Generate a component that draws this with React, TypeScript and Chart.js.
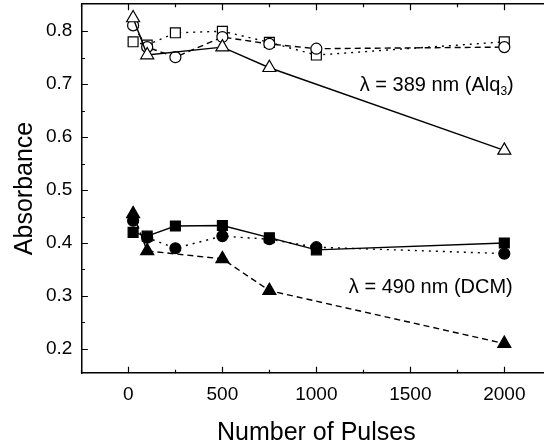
import { useEffect, useRef } from "react";
import { Chart, registerables } from "chart.js";

Chart.register(...registerables);

// ---- data ----
const pulsesAlqTri = [25, 100, 500, 750, 2000];
const absAlqTri = [0.825, 0.755, 0.77, 0.731, 0.575];
const pulsesAlqCirc = [25, 100, 250, 500, 750, 1000, 2000];
const absAlqCirc = [0.811, 0.77, 0.751, 0.789, 0.776, 0.767, 0.77];
const pulsesAlqSq = [25, 100, 250, 500, 750, 1000, 2000];
const absAlqSq = [0.78, 0.774, 0.797, 0.8, 0.779, 0.755, 0.78];

const pulsesDcmSq = [25, 100, 250, 500, 750, 1000, 2000];
const absDcmSq = [0.42, 0.413, 0.432, 0.433, 0.41, 0.387, 0.4];
const pulsesDcmCirc = [25, 100, 250, 500, 750, 1000, 2000];
const absDcmCirc = [0.442, 0.41, 0.39, 0.413, 0.407, 0.392, 0.38];
const pulsesDcmTri = [25, 100, 500, 750, 2000];
const absDcmTri = [0.455, 0.385, 0.37, 0.31, 0.21];

const xTickValues = [0, 500, 1000, 1500, 2000];
const yTickValues = [0.2, 0.3, 0.4, 0.5, 0.6, 0.7, 0.8];

const xTitle = "Number of Pulses";
const yTitle = "Absorbance";
const labelAlq = ["λ = 389 nm (Alq", "3", ")"];
const labelDcm = ["λ = 490 nm (DCM)"];

const FONT = "Arial, 'Liberation Sans', sans-serif";

const pts = (xs: number[], ys: number[]) => xs.map((x, i) => ({ x, y: ys[i] }));

function drawLabel(ctx: CanvasRenderingContext2D, rightX: number, cy: number, parts: string[], size: number) {
  ctx.save();
  ctx.fillStyle = "#000";
  ctx.textBaseline = "middle";
  ctx.textAlign = "left";
  const mainFont = `${size}px ${FONT}`;
  const subFont = `${Math.round(size * 0.62)}px ${FONT}`;
  const fonts = parts.map((_, i) => (i === 1 ? subFont : mainFont));
  let total = 0;
  const widths = parts.map((p, i) => {
    ctx.font = fonts[i];
    const w = ctx.measureText(p).width;
    total += w;
    return w;
  });
  let x = rightX - total;
  parts.forEach((p, i) => {
    ctx.font = fonts[i];
    ctx.fillText(p, x, i === 1 ? cy + size * 0.3 : cy);
    x += widths[i];
  });
  ctx.restore();
}

const decorPlugin = {
  id: "decor",
  afterDraw(chart: any) {
    const { ctx, chartArea: a, scales } = chart;
    const xs = scales.x;
    const ys = scales.y;
    ctx.save();
    ctx.strokeStyle = "#000";
    ctx.lineWidth = 1.5;
    ctx.beginPath();
    ctx.moveTo(a.left, a.top);
    ctx.lineTo(a.right, a.top);
    ctx.lineTo(a.right, a.bottom);
    ctx.stroke();
    ctx.lineWidth = 1.2;
    ctx.beginPath();
    for (let v = -250; v <= 2250; v += 250) {
      const px = Math.round(xs.getPixelForValue(v)) + 0.5;
      const L = v % 500 === 0 ? 6.5 : 3.5;
      ctx.moveTo(px, a.bottom);
      ctx.lineTo(px, a.bottom - L);
      ctx.moveTo(px, a.top);
      ctx.lineTo(px, a.top + L);
    }
    for (let k = 3; k <= 17; k++) {
      const v = k * 0.05;
      if (v < ys.min + 0.01 || v > ys.max - 0.01) continue;
      const py = Math.round(ys.getPixelForValue(v)) + 0.5;
      const L = k % 2 === 0 ? 6.5 : 3.5;
      ctx.moveTo(a.left, py);
      ctx.lineTo(a.left + L, py);
      ctx.moveTo(a.right, py);
      ctx.lineTo(a.right - L, py);
    }
    ctx.stroke();
    ctx.restore();
    drawLabel(ctx, xs.getPixelForValue(2050), ys.getPixelForValue(0.697), labelAlq, 20);
    drawLabel(ctx, xs.getPixelForValue(2045), ys.getPixelForValue(0.315), labelDcm, 20);
  },
};

const zeroPad = (s: any) => {
  s.paddingTop = 0;
  s.paddingBottom = 0;
  s.paddingLeft = 0;
  s.paddingRight = 0;
};

export default function App() {
  const ref = useRef<HTMLCanvasElement | null>(null);
  useEffect(() => {
    if (!ref.current) return;
    Chart.defaults.font.family = FONT;
    Chart.defaults.color = "#000";
    const common = { borderColor: "#000", borderWidth: 1.4, pointBorderColor: "#000", pointBorderWidth: 1.2 };
    const open = "#fff";
    const filled = "#000";
    const chart = new Chart(ref.current, {
      type: "line",
      data: {
        datasets: [
          { ...common, data: pts(pulsesAlqTri, absAlqTri), pointStyle: "triangle", pointRadius: 7.5, pointBackgroundColor: open },
          { ...common, data: pts(pulsesAlqCirc, absAlqCirc), borderDash: [6, 4], pointStyle: "circle", pointRadius: 5.5, pointBackgroundColor: open },
          { ...common, data: pts(pulsesAlqSq, absAlqSq), borderDash: [2, 5], pointStyle: "rect", pointRadius: 7, pointBackgroundColor: open },
          { ...common, data: pts(pulsesDcmSq, absDcmSq), pointStyle: "rect", pointRadius: 7, pointBackgroundColor: filled },
          { ...common, data: pts(pulsesDcmCirc, absDcmCirc), borderDash: [2, 5], pointStyle: "circle", pointRadius: 5.5, pointBackgroundColor: filled },
          { ...common, data: pts(pulsesDcmTri, absDcmTri), borderDash: [6, 4], pointStyle: "triangle", pointRadius: 7.5, pointBackgroundColor: filled },
        ] as any,
      },
      options: {
        animation: false,
        responsive: false,
        devicePixelRatio: 1,
        layout: { padding: { top: 4, right: 8, left: 0, bottom: 0 } },
        plugins: { legend: { display: false }, tooltip: { enabled: false } },
        elements: { line: { tension: 0, fill: false } },
        scales: {
          x: {
            type: "linear",
            min: -250,
            max: 2250,
            afterBuildTicks: (s: any) => {
              s.ticks = xTickValues.map((v) => ({ value: v }));
            },
            afterFit: (s: any) => {
              zeroPad(s);
              s.height -= 10;
            },
            grid: { display: false, drawTicks: false },
            border: { display: true, color: "#000", width: 1.5 },
            ticks: { color: "#000", font: { size: 19 }, padding: 10, maxRotation: 0, autoSkip: false, callback: (v: any) => String(v) },
            title: { display: true, text: xTitle, color: "#000", font: { size: 25 }, padding: { top: 12, bottom: 4 } },
          },
          y: {
            type: "linear",
            min: 0.154,
            max: 0.852,
            afterBuildTicks: (s: any) => {
              s.ticks = yTickValues.map((v) => ({ value: v }));
            },
            afterFit: (s: any) => {
              zeroPad(s);
              s.width -= 9;
            },
            grid: { display: false, drawTicks: false },
            border: { display: true, color: "#000", width: 1.5 },
            ticks: { color: "#000", font: { size: 19 }, padding: 9, autoSkip: false, callback: (v: any) => Number(v).toFixed(1) },
            title: { display: true, text: yTitle, color: "#000", font: { size: 25 }, padding: { top: 10, bottom: 6 } },
          },
        },
      } as any,
      plugins: [decorPlugin],
    });
    return () => chart.destroy();
  }, []);
  return (
    <div style={{ position: "fixed", left: 0, top: 0, width: 544, height: 443, overflow: "hidden", background: "#fff" }}>
      <canvas ref={ref} width={560} height={457} style={{ display: "block", marginTop: -5 }} />
    </div>
  );
}
